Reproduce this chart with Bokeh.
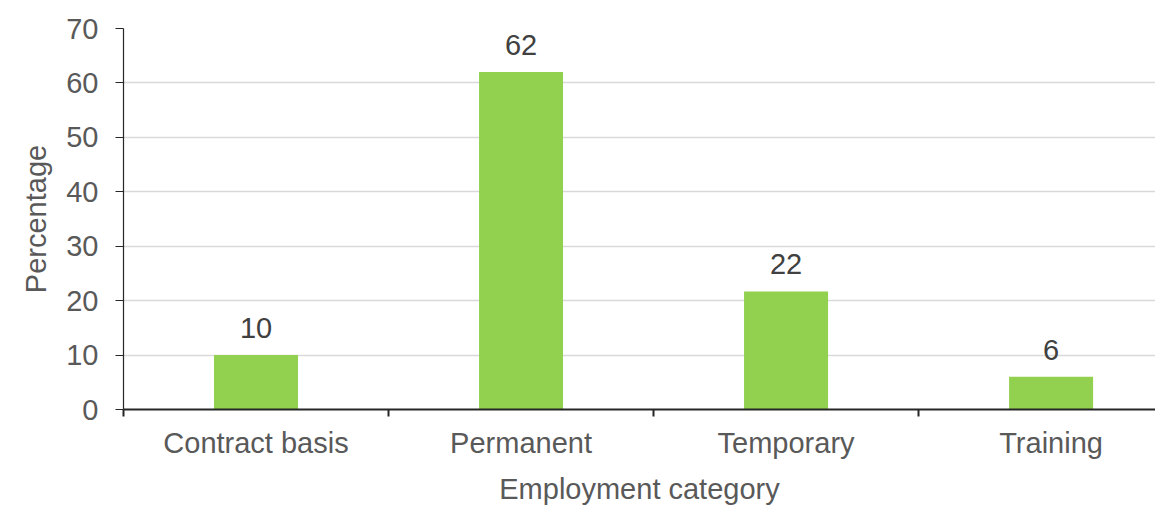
from bokeh.plotting import figure
from bokeh.models import ColumnDataSource, Range1d, FixedTicker
from bokeh.core.properties import value
from bokeh.embed import file_html
from bokeh.resources import INLINE

categories = ["Contract basis", "Permanent", "Temporary", "Training"]
percentages = [10, 62, 21.7, 6]
labels = ["10", "62", "22", "6"]
y_ticks = [0, 10, 20, 30, 40, 50, 60, 70]

FONT = "Liberation Sans"
FS = "29px"
x_pos = [i + 0.5 for i in range(len(categories))]

src = ColumnDataSource(dict(x=x_pos, top=percentages, label=labels))

p = figure(width=1155, height=507, output_backend="svg", toolbar_location=None,
           x_range=Range1d(0, 3.894), y_range=Range1d(0, 70),
           min_border_left=123, min_border_top=28, min_border_right=0, min_border_bottom=60)
p.outline_line_color = None
p.background_fill_color = "white"
p.border_fill_color = "white"

p.vbar(x="x", top="top", bottom=0, width=0.317, source=src, color="#92D050", line_color=None)
p.text(x="x", y="top", text="label", source=src, y_offset=-27,
       text_align="center", text_baseline="alphabetic",
       text_font=value(FONT), text_font_size=FS, text_color="#404040")

# y axis
p.yaxis.ticker = FixedTicker(ticks=y_ticks)
p.yaxis.axis_label = "Percentage"
p.yaxis.axis_label_text_font = FONT
p.yaxis.axis_label_text_font_size = FS
p.yaxis.axis_label_text_font_style = "normal"
p.yaxis.axis_label_text_color = "#595959"
p.yaxis.axis_label_standoff = 11
p.yaxis.major_label_text_font = FONT
p.yaxis.major_label_text_font_size = FS
p.yaxis.major_label_text_color = "#595959"
p.yaxis.major_label_standoff = 17
p.yaxis.major_tick_out = 8
p.yaxis.major_tick_in = 0
p.yaxis.minor_tick_line_color = None
p.yaxis.axis_line_color = "#262626"
p.yaxis.major_tick_line_color = "#262626"
p.yaxis.axis_line_width = 1.2

# x axis: labels at category centres, ticks at boundaries
p.xaxis.ticker = FixedTicker(ticks=x_pos, minor_ticks=list(range(len(categories) + 1)))
p.xaxis.major_label_overrides = {x: c for x, c in zip(x_pos, categories)}
p.xaxis.major_tick_line_color = None
p.xaxis.major_tick_out = 0
p.xaxis.major_tick_in = 0
p.xaxis.minor_tick_line_color = "#262626"
p.xaxis.minor_tick_line_width = 2
p.xaxis.minor_tick_out = 7
p.xaxis.minor_tick_in = 0
p.xaxis.axis_line_color = "#262626"
p.xaxis.axis_line_width = 2
p.xaxis.major_label_text_font = FONT
p.xaxis.major_label_text_font_size = FS
p.xaxis.major_label_text_color = "#595959"
p.xaxis.major_label_standoff = 10
p.xaxis.axis_label = "Employment category"
p.xaxis.axis_label_text_font = FONT
p.xaxis.axis_label_text_font_size = FS
p.xaxis.axis_label_text_font_style = "normal"
p.xaxis.axis_label_text_color = "#595959"
p.xaxis.axis_label_standoff = 11

p.xgrid.grid_line_color = None
p.ygrid.ticker = FixedTicker(ticks=y_ticks)
p.ygrid.grid_line_color = "#d9d9d9"
p.ygrid.grid_line_width = 1.5

open("out.html", "w").write(file_html(p, INLINE))
